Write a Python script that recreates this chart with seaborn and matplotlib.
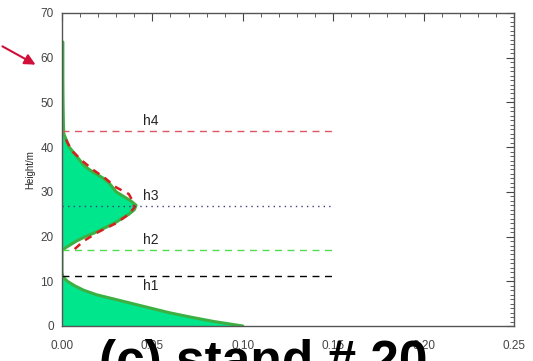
import numpy as np
import pandas as pd
import seaborn as sns
import matplotlib
matplotlib.use('Agg')
import matplotlib.pyplot as plt
from matplotlib.ticker import MultipleLocator

sns.set_style('white')
plt.rcParams['font.family'] = ['Liberation Sans', 'DejaVu Sans']

# measured profile (height in m, density)
height = [0, 1, 2, 3, 4, 5, 6, 7, 8, 9, 10, 11, 12, 13, 14, 15, 16, 16.8,
          17.5, 18, 19, 20, 21, 22, 23, 24, 25, 26, 27, 28, 29, 30, 31, 32,
          33, 34, 35, 36, 37, 38, 39, 40, 41, 42, 43, 45, 50, 55, 60, 63.5]
density = [0.100, 0.084, 0.071, 0.059, 0.049, 0.039, 0.029, 0.019, 0.012,
           0.007, 0.003, 0.0005, 0, 0, 0, 0, 0, 0,
           0.002, 0.004, 0.008, 0.013, 0.019, 0.024, 0.029, 0.033, 0.037,
           0.040, 0.041, 0.038, 0.034, 0.030, 0.028, 0.026, 0.023, 0.019,
           0.015, 0.012, 0.010, 0.008, 0.006, 0.004, 0.003, 0.002, 0.001,
           0.0008, 0.0006, 0.0005, 0.0005, 0.0005]

# fitted crown profile (red dashed)
fit_height = [17.2, 19, 21, 23, 25, 26.5, 28, 29.5, 31, 33, 35, 37, 39, 41, 43]
fit_density = [0.007, 0.012, 0.020, 0.030, 0.037, 0.040, 0.039, 0.037,
               0.030, 0.024, 0.017, 0.011, 0.006, 0.003, 0.001]

# layer heights
h_names = ['h1', 'h2', 'h3', 'h4']
h_values = [11.2, 17.1, 26.8, 43.6]
h_colors = ['black', '#50dd50', '#404080', '#e05565']
h_styles = [(0, (5, 4)), (0, (5, 4)), (0, (1, 3)), (0, (5, 4))]

prof = pd.DataFrame({'height': height, 'density': density})
fit = pd.DataFrame({'height': fit_height, 'density': fit_density})

fig = plt.figure(figsize=(5.33, 3.61), dpi=100)
ax = fig.add_axes([0.1163, 0.097, 0.848, 0.867])

ax.fill_betweenx(prof['height'], 0, prof['density'], color='#00e68c', lw=0)
sns.lineplot(data=prof, x='density', y='height', orient='y', color='#3cb043',
             lw=2.2, ax=ax)
sns.lineplot(data=fit, x='density', y='height', orient='y', color='#d42020',
             lw=1.8, dashes=False, ax=ax, linestyle=(0, (3, 2.5)))

for name, hv, c, ls in zip(h_names, h_values, h_colors, h_styles):
    ax.plot([0, 0.15], [hv, hv], color=c, lw=1, linestyle=ls)
    if name == 'h1':
        ax.text(0.045, hv - 0.8, name, fontsize=10, va='top', color='#222222')
    else:
        ax.text(0.045, hv + 0.6, name, fontsize=10, va='bottom', color='#222222')

ax.set_xlim(0, 0.25)
ax.set_ylim(0, 70)
ax.xaxis.set_major_locator(MultipleLocator(0.05))
ax.xaxis.set_minor_locator(MultipleLocator(0.01))
ax.yaxis.set_major_locator(MultipleLocator(10))
ax.yaxis.set_minor_locator(MultipleLocator(1))
ax.xaxis.set_major_formatter(matplotlib.ticker.FormatStrFormatter('%.2f'))
ax.tick_params(which='both', direction='in', top=True, right=True,
               labelsize=8.5, labelcolor='#444444', color='#444444')
ax.tick_params(which='major', length=6, width=0.8)
ax.tick_params(which='minor', length=3, width=0.6)
ax.tick_params(axis='x', pad=10)
ax.tick_params(axis='y', pad=6)
for s in ax.spines.values():
    s.set_color('#555555')
    s.set_linewidth(1)

ax.set_ylabel('Height/m', fontsize=7, labelpad=4)
ax.set_xlabel('Relative profile density', fontsize=7, labelpad=7)

fig.text(0.493, -0.044, '(c) stand # 20', fontsize=37, fontweight='bold',
         ha='center', va='baseline', color='black')

ax.annotate('', xy=(38 / 533, 1 - 66 / 361), xytext=(0, 1 - 45 / 361),
            xycoords='figure fraction', textcoords='figure fraction',
            arrowprops=dict(arrowstyle='-|>', color='#d0103a', lw=1.5,
                            mutation_scale=16))

fig.savefig('out.png', dpi=100)
